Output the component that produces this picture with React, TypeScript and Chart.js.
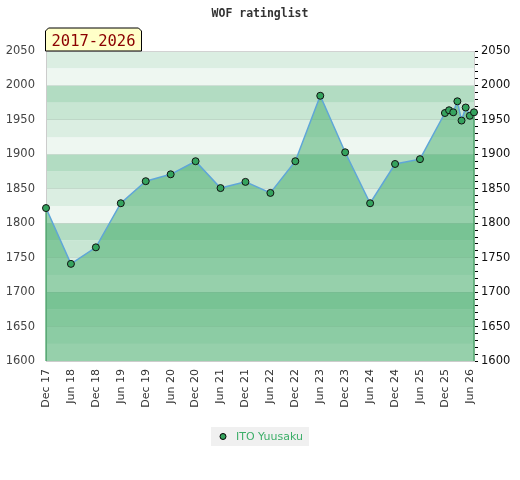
import { useEffect, useRef } from "react";
import { Chart, registerables } from "chart.js";

Chart.register(...registerables);

const chartTitle = "WOF ratinglist";
const periodLabel = "2017-2026";
const playerName = "ITO Yuusaku";

const ratingMonths = [
  "2017-12", "2018-06", "2018-12", "2019-06", "2019-12", "2020-06", "2020-12",
  "2021-06", "2021-12", "2022-06", "2022-12", "2023-06", "2023-12", "2024-06",
  "2024-12", "2025-06", "2025-12", "2026-01", "2026-02", "2026-03", "2026-04",
  "2026-05", "2026-06", "2026-07",
];
const ratings = [
  1822, 1741, 1765, 1829, 1861, 1871, 1890,
  1851, 1860, 1844, 1890, 1985, 1903, 1829,
  1886, 1893, 1960, 1964, 1961, 1977, 1949,
  1968, 1956, 1961,
];

const xTickMonths = [
  "2017-12", "2018-06", "2018-12", "2019-06", "2019-12", "2020-06", "2020-12",
  "2021-06", "2021-12", "2022-06", "2022-12", "2023-06", "2023-12", "2024-06",
  "2024-12", "2025-06", "2025-12", "2026-06",
];
const xTickLabels = [
  "Dec 17", "Jun 18", "Dec 18", "Jun 19", "Dec 19", "Jun 20", "Dec 20",
  "Jun 21", "Dec 21", "Jun 22", "Dec 22", "Jun 23", "Dec 23", "Jun 24",
  "Dec 24", "Jun 25", "Dec 25", "Jun 26",
];
const xRange = ["2017-12", "2026-07"];
const yRange = [1600, 2050];
const yLabelStep = 50;
const yMinorStep = 10;
const bandStep = 25;
const bandColors = ["#eef7f1", "#dbeee2", "#c8e6d3", "#b2dcc2"];

const monthIndex = (s: string) => {
  const [y, m] = s.split("-").map(Number);
  return y * 12 + (m - 1);
};

const bandsPlugin = {
  id: "bands",
  beforeDraw(chart: any) {
    const { ctx, chartArea } = chart;
    const y = chart.scales.y;
    ctx.save();
    for (let v = yRange[0]; v < yRange[1]; v += bandStep) {
      const idx = Math.floor((((v % 100) + 100) % 100) / bandStep);
      const top = y.getPixelForValue(v + bandStep);
      const bottom = y.getPixelForValue(v);
      ctx.fillStyle = bandColors[idx];
      ctx.fillRect(chartArea.left, top, chartArea.right - chartArea.left, bottom - top);
    }
    ctx.restore();
  },
};

const decorPlugin = {
  id: "decor",
  afterDatasetsDraw(chart: any) {
    const { ctx, chartArea } = chart;
    const meta = chart.getDatasetMeta(0);
    const pts = meta.data;
    if (!pts.length) return;
    ctx.save();
    ctx.strokeStyle = "#3f9e60";
    ctx.lineWidth = 1.2;
    [pts[0], pts[pts.length - 1]].forEach((p: any) => {
      ctx.beginPath();
      ctx.moveTo(p.x, p.y + 4);
      ctx.lineTo(p.x, chartArea.bottom);
      ctx.stroke();
    });
    ctx.restore();
  },
  afterDraw(chart: any) {
    const { ctx, chartArea, width } = chart;
    ctx.save();
    // top border
    ctx.strokeStyle = "#d2d2d2";
    ctx.lineWidth = 1;
    ctx.beginPath();
    ctx.moveTo(chartArea.left, chartArea.top + 0.5);
    ctx.lineTo(chartArea.right, chartArea.top + 0.5);
    ctx.stroke();

    // title
    ctx.font = "bold 11.5px 'DejaVu Sans Mono'";
    ctx.fillStyle = "#333";
    ctx.textAlign = "center";
    ctx.textBaseline = "alphabetic";
    ctx.fillText(chartTitle, width / 2, 17);

    // period badge
    ctx.font = "15.5px 'DejaVu Sans Mono'";
    const tw = ctx.measureText(periodLabel).width;
    const bx = chartArea.left - 0.5;
    const bw = tw + 12;
    const by = chartArea.top - 23;
    const c = 3;
    ctx.beginPath();
    ctx.moveTo(bx, chartArea.top);
    ctx.lineTo(bx, by + c);
    ctx.lineTo(bx + c, by);
    ctx.lineTo(bx + bw - c, by);
    ctx.lineTo(bx + bw, by + c);
    ctx.lineTo(bx + bw, chartArea.top);
    ctx.closePath();
    ctx.fillStyle = "#ffffc8";
    ctx.fill();
    ctx.strokeStyle = "#000";
    ctx.lineWidth = 1;
    ctx.stroke();
    ctx.fillStyle = "#8b0000";
    ctx.textAlign = "left";
    ctx.fillText(periodLabel, bx + 6, chartArea.top - 5);

    // legend
    const ds = chart.data.datasets[0];
    ctx.font = "11px 'DejaVu Sans'";
    const lw = ctx.measureText(ds.label).width;
    const boxW = lw + 31;
    const boxH = 19;
    const lx = Math.round(width / 2 - boxW / 2);
    const ly = 427;
    ctx.fillStyle = "#f0f0f0";
    ctx.fillRect(lx, ly, boxW, boxH);
    ctx.beginPath();
    ctx.arc(lx + 12, ly + boxH / 2, 3, 0, Math.PI * 2);
    ctx.fillStyle = ds.pointBackgroundColor;
    ctx.fill();
    ctx.strokeStyle = "#000";
    ctx.stroke();
    ctx.fillStyle = "#3cae68";
    ctx.textBaseline = "middle";
    ctx.fillText(ds.label, lx + 25, ly + boxH / 2 + 0.5);
    ctx.restore();
  },
};

export default function App() {
  const canvasRef = useRef<HTMLCanvasElement | null>(null);

  useEffect(() => {
    document.body.style.margin = "0";
    const canvas = canvasRef.current;
    if (!canvas) return;
    const tickLookup = new Map<number, string>();
    xTickMonths.forEach((m, i) => tickLookup.set(monthIndex(m), xTickLabels[i]));

    const chart = new Chart(canvas, {
      type: "line",
      data: {
        datasets: [
          {
            label: playerName,
            data: ratingMonths.map((m, i) => ({ x: monthIndex(m), y: ratings[i] })),
            borderColor: "#5fa6d8",
            borderWidth: 1.5,
            pointBackgroundColor: "#35a35e",
            pointBorderColor: "#111",
            pointBorderWidth: 1,
            pointRadius: 3.5,
            fill: "start",
            backgroundColor: "rgba(62,170,102,0.5)",
            tension: 0,
            clip: false as any,
          },
        ],
      },
      options: {
        responsive: false,
        animation: false,
        layout: { padding: { top: 51, bottom: 50, left: 0, right: 0 } },
        plugins: {
          legend: { display: false },
          title: { display: false },
          tooltip: { enabled: false },
        },
        scales: {
          x: {
            type: "linear",
            min: monthIndex(xRange[0]),
            max: monthIndex(xRange[1]),
            grid: { display: false, drawTicks: false },
            border: { color: "#cccccc" },
            afterBuildTicks: (scale: any) => {
              scale.ticks = xTickMonths.map((m) => ({ value: monthIndex(m) }));
            },
            afterFit: (scale: any) => {
              scale.height = 69;
            },
            ticks: {
              autoSkip: false,
              maxRotation: 90,
              minRotation: 90,
              padding: 8,
              color: "#333",
              font: { family: "'DejaVu Sans'", size: 11 },
              callback: (value: any) => tickLookup.get(Number(value)) ?? "",
            },
          },
          y: {
            type: "linear",
            position: "left",
            min: yRange[0],
            max: yRange[1],
            grid: { color: "rgba(0,0,0,0.07)", drawTicks: false },
            border: { color: "#cccccc" },
            afterFit: (scale: any) => {
              scale.width = 46;
            },
            ticks: {
              stepSize: yLabelStep,
              padding: 11,
              color: "#444",
              font: { family: "'DejaVu Sans'", size: 11.5 },
              callback: (value: any) => String(value),
            },
          },
          y2: {
            type: "linear",
            position: "right",
            min: yRange[0],
            max: yRange[1],
            grid: {
              drawOnChartArea: false,
              color: "#000",
              tickLength: 4,
              tickWidth: 1,
            },
            border: { color: "#cccccc" },
            afterFit: (scale: any) => {
              scale.width = 46;
            },
            ticks: {
              stepSize: yMinorStep,
              autoSkip: false,
              padding: 3,
              color: "#111",
              font: { family: "'DejaVu Sans'", size: 11.5 },
              callback: (value: any) =>
                Number(value) % yLabelStep === 0 ? String(value) : "",
            },
          },
        },
      },
      plugins: [bandsPlugin, decorPlugin],
    });
    return () => chart.destroy();
  }, []);

  return (
    <div style={{ width: 520, height: 480 }}>
      <canvas ref={canvasRef} width={520} height={480} />
    </div>
  );
}
